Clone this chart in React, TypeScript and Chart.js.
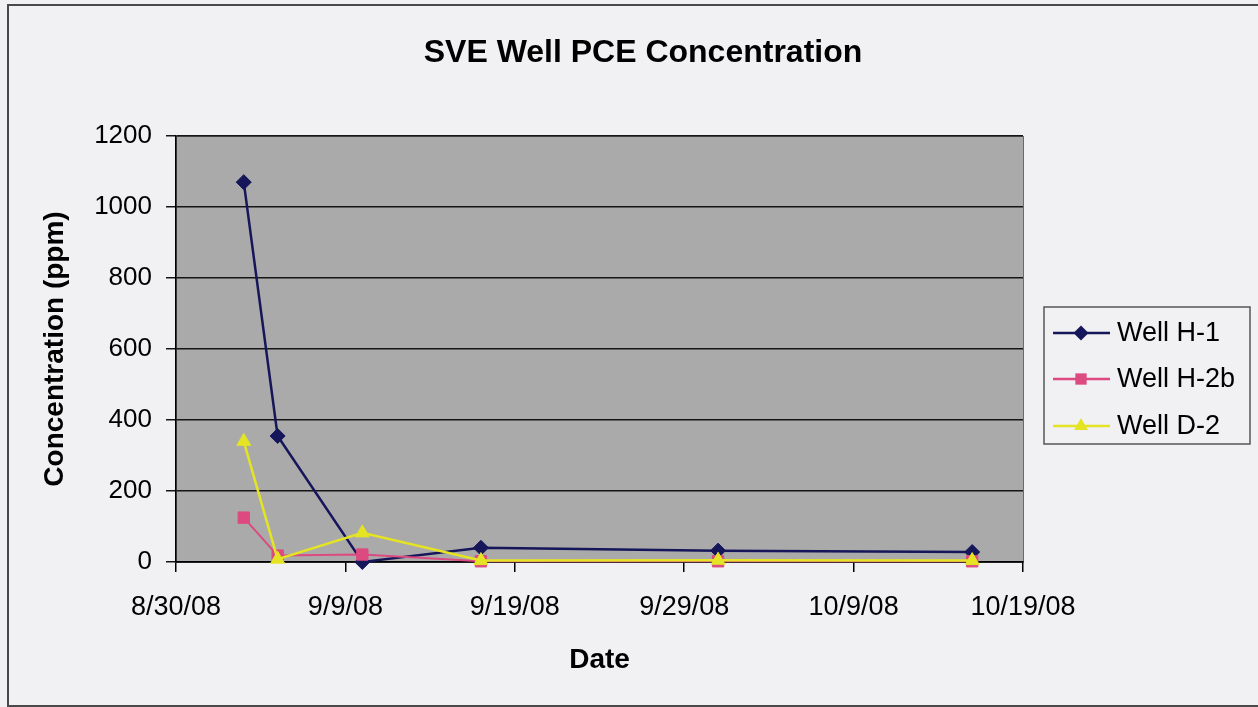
import React, { useEffect, useRef } from 'react';
import { Chart, registerables } from 'chart.js';

Chart.register(...registerables);

// ---------- data ----------
const CHART_TITLE = 'SVE Well PCE Concentration';
const X_TITLE = 'Date';
const Y_TITLE = 'Concentration (ppm)';
const SERIES_NAMES = ['Well H-1', 'Well H-2b', 'Well D-2'];
const SAMPLE_DATES = ['2008-09-03', '2008-09-05', '2008-09-10', '2008-09-17', '2008-10-01', '2008-10-16'];
const WELL_H1 = [1070, 355, 0, 40, 32, 28];
const WELL_H2B = [125, 18, 21, 2, 2, 2];
const WELL_D2 = [340, 8, 82, 4, 5, 4];
const X_MIN_DATE = '2008-08-30';
const X_MAX_DATE = '2008-10-19';
const X_STEP_DAYS = 10;
const Y_MIN = 0;
const Y_MAX = 1200;
const Y_STEP = 200;

// ---------- styles ----------
const NAVY = '#16165a';
const PINK = '#dc4a80';
const YELLOW = '#e4e424';
const PAGE_BG = '#f1f1f3';
const PLOT_BG = '#aaaaaa';
const SANS = "'Liberation Sans', Arial, sans-serif";
const TICK_FONT = "'Liberation Sans', Arial, sans-serif";

const DAY_MS = 86400000;
const dayNum = (s: string) => {
  const [y, m, d] = s.split('-').map(Number);
  return Date.UTC(y, m - 1, d) / DAY_MS;
};
const fmtDate = (v: number) => {
  const dt = new Date(Math.round(v) * DAY_MS);
  return `${dt.getUTCMonth() + 1}/${dt.getUTCDate()}/${String(dt.getUTCFullYear()).slice(2)}`;
};
const toPoints = (vals: number[]) => SAMPLE_DATES.map((d, i) => ({ x: dayNum(d), y: vals[i] }));

function drawMarker(ctx: CanvasRenderingContext2D, style: string, x: number, y: number, r: number) {
  ctx.beginPath();
  if (style === 'rectRot') {
    ctx.moveTo(x - r, y);
    ctx.lineTo(x, y - r);
    ctx.lineTo(x + r, y);
    ctx.lineTo(x, y + r);
  } else if (style === 'rect') {
    const s = Math.SQRT1_2 * r;
    ctx.rect(x - s, y - s, 2 * s, 2 * s);
  } else {
    ctx.moveTo(x, y - r);
    ctx.lineTo(x + Math.sin((2 * Math.PI) / 3) * r, y - Math.cos((2 * Math.PI) / 3) * r);
    ctx.lineTo(x + Math.sin((4 * Math.PI) / 3) * r, y - Math.cos((4 * Math.PI) / 3) * r);
  }
  ctx.closePath();
  ctx.fill();
}

const backdropPlugin = {
  id: 'backdrop',
  beforeDraw(chart: any) {
    const { ctx, chartArea, width, height } = chart;
    ctx.save();
    ctx.fillStyle = PAGE_BG;
    ctx.fillRect(0, 0, width, height);
    ctx.strokeStyle = '#4a4a4a';
    ctx.lineWidth = 2;
    ctx.strokeRect(8, 5, width + 20, height - 6);
    ctx.fillStyle = PLOT_BG;
    ctx.fillRect(chartArea.left, chartArea.top, chartArea.right - chartArea.left, chartArea.bottom - chartArea.top);
    ctx.strokeStyle = '#6a6a6a';
    ctx.lineWidth = 1;
    ctx.strokeRect(chartArea.left + 0.5, chartArea.top + 0.5, chartArea.right - chartArea.left, chartArea.bottom - chartArea.top);
    ctx.restore();
  },
};

const boxLegendPlugin = {
  id: 'boxLegend',
  afterDraw(chart: any) {
    const { ctx, chartArea } = chart;
    const left = chartArea.right + 21;
    const top = chartArea.top + 171;
    const w = 206;
    const h = 137;
    ctx.save();
    ctx.fillStyle = PAGE_BG;
    ctx.fillRect(left, top, w, h);
    ctx.strokeStyle = '#555';
    ctx.lineWidth = 1.5;
    ctx.strokeRect(left, top, w, h);
    const rowYs = [top + 26, top + 72, top + 119];
    chart.data.datasets.forEach((ds: any, i: number) => {
      const y = rowYs[i];
      ctx.strokeStyle = ds.borderColor;
      ctx.lineWidth = 2.5;
      ctx.beginPath();
      ctx.moveTo(left + 9, y);
      ctx.lineTo(left + 66, y);
      ctx.stroke();
      ctx.fillStyle = ds.pointBackgroundColor;
      drawMarker(ctx, ds.pointStyle, left + 37, y, ds.pointRadius);
      ctx.fillStyle = '#000';
      ctx.font = `27px ${TICK_FONT}`;
      ctx.textBaseline = 'middle';
      ctx.textAlign = 'left';
      ctx.fillText(ds.label, left + 73, y + 1);
    });
    ctx.restore();
  },
};

export default function App() {
  const ref = useRef<HTMLCanvasElement>(null);

  useEffect(() => {
    if (!ref.current) return;
    const chart = new Chart(ref.current, {
      type: 'line',
      data: {
        datasets: [
          {
            label: SERIES_NAMES[0],
            data: toPoints(WELL_H1),
            borderColor: NAVY,
            backgroundColor: NAVY,
            pointBackgroundColor: NAVY,
            pointBorderColor: NAVY,
            borderWidth: 2.5,
            pointStyle: 'rectRot',
            pointRadius: 7.5,
            pointBorderWidth: 1,
            tension: 0,
            clip: false,
            order: 3,
          },
          {
            label: SERIES_NAMES[1],
            data: toPoints(WELL_H2B),
            borderColor: PINK,
            backgroundColor: PINK,
            pointBackgroundColor: PINK,
            pointBorderColor: PINK,
            borderWidth: 2,
            pointStyle: 'rect',
            pointRadius: 8,
            pointBorderWidth: 1,
            tension: 0,
            clip: false,
            order: 2,
          },
          {
            label: SERIES_NAMES[2],
            data: toPoints(WELL_D2),
            borderColor: YELLOW,
            backgroundColor: YELLOW,
            pointBackgroundColor: YELLOW,
            pointBorderColor: YELLOW,
            borderWidth: 2.5,
            pointStyle: 'triangle',
            pointRadius: 8,
            pointBorderWidth: 1,
            tension: 0,
            clip: false,
            order: 1,
          },
        ] as any,
      },
      options: {
        animation: false,
        responsive: false,
        maintainAspectRatio: false,
        layout: { padding: { left: 28, right: 0, top: 0, bottom: 0 } },
        plugins: {
          legend: { display: false },
          tooltip: { enabled: false },
          title: {
            display: true,
            text: CHART_TITLE,
            color: '#000',
            font: { family: SANS, size: 32, weight: 'bold' },
            padding: { top: 34, bottom: 63.6 },
          },
        },
        scales: {
          x: {
            type: 'linear',
            position: 'bottom',
            min: dayNum(X_MIN_DATE),
            max: dayNum(X_MAX_DATE),
            ticks: {
              stepSize: X_STEP_DAYS,
              autoSkip: false,
              maxRotation: 0,
              padding: 19,
              color: '#000',
              font: { family: TICK_FONT, size: 27 },
              callback: (v: any) => fmtDate(Number(v)),
            },
            grid: { drawOnChartArea: false, drawTicks: true, tickLength: 10, color: '#000', lineWidth: 1.5 },
            border: { display: true, color: '#000', width: 1.5 },
            title: {
              display: true,
              text: X_TITLE,
              color: '#000',
              font: { family: SANS, size: 28, weight: 'bold' },
              padding: { top: 0, bottom: 30 },
            },
            afterFit: (s: any) => {
              s.height = 145;
            },
          },
          y: {
            type: 'linear',
            position: 'left',
            min: Y_MIN,
            max: Y_MAX,
            ticks: {
              stepSize: Y_STEP,
              padding: 14,
              color: '#000',
              font: { family: TICK_FONT, size: 26 },
              callback: (v: any) => String(v),
            },
            grid: { color: '#151515', lineWidth: 1.5, drawTicks: true, tickLength: 10 },
            border: { display: true, color: '#000', width: 1.5 },
            title: {
              display: true,
              text: Y_TITLE,
              color: '#000',
              font: { family: SANS, size: 28, weight: 'bold' },
              padding: { top: 10, bottom: 0 },
            },
            afterFit: (s: any) => {
              s.width = 148;
            },
          },
          legendSpace: {
            type: 'linear',
            position: 'right',
            display: true,
            grid: { display: false },
            ticks: { display: false },
            border: { display: false },
            afterFit: (s: any) => {
              s.width = 235;
            },
          },
        },
      } as any,
      plugins: [backdropPlugin, boxLegendPlugin],
    });
    return () => chart.destroy();
  }, []);

  return (
    <div style={{ position: 'fixed', left: 0, top: 0, width: 1258, height: 707 }}>
      <canvas ref={ref} width={1258} height={707} style={{ display: 'block', width: 1258, height: 707 }} />
    </div>
  );
}
